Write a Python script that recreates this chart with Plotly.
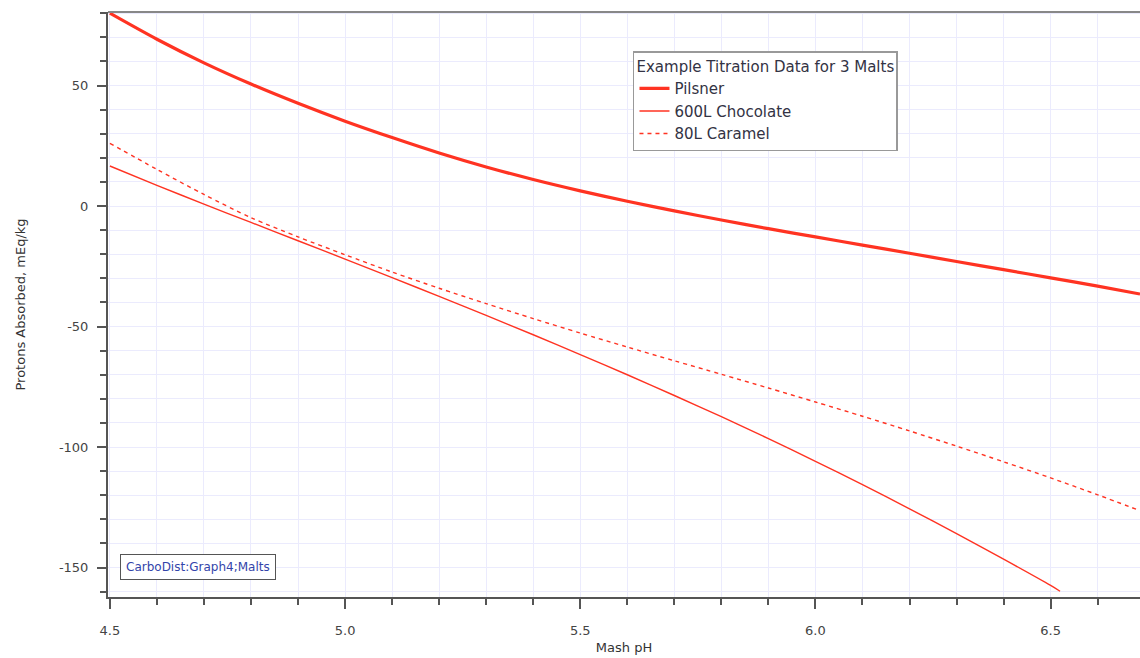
import plotly.graph_objects as go

ph_pils = [4.5, 4.6, 4.7, 4.8, 4.9, 5.0, 5.1, 5.2, 5.3, 5.4, 5.5, 5.6, 5.7, 5.8, 5.9, 6.0, 6.1, 6.2, 6.3, 6.4, 6.5, 6.6, 6.69]
pilsner = [80, 69.2, 59.4, 50.6, 42.6, 35.2, 28.4, 22.0, 16.2, 11.0, 6.3, 2.0, -2.0, -5.8, -9.4, -12.8, -16.2, -19.6, -23.0, -26.4, -29.8, -33.2, -36.5]

ph_choc = [4.5, 4.6, 4.7, 4.8, 4.9, 5.0, 5.1, 5.2, 5.3, 5.4, 5.5, 5.6, 5.7, 5.8, 5.9, 6.0, 6.1, 6.2, 6.3, 6.4, 6.5, 6.52]
chocolate = [16.6, 8.6, 0.8, -6.8, -14.4, -22, -29.7, -37.5, -45.4, -53.4, -61.6, -70.0, -78.6, -87.4, -96.5, -105.9, -115.6, -125.6, -135.9, -146.5, -157.4, -159.8]

ph_cara = [4.5, 4.6, 4.7, 4.8, 4.9, 5.0, 5.1, 5.2, 5.3, 5.4, 5.5, 5.6, 5.7, 5.8, 5.9, 6.0, 6.1, 6.2, 6.3, 6.4, 6.5, 6.6, 6.69]
caramel = [26, 15.2, 4.8, -4.8, -12.8, -20.2, -27.4, -34.1, -40.5, -46.7, -52.7, -58.5, -64.2, -69.8, -75.5, -81.3, -87.2, -93.3, -99.6, -106.1, -112.8, -119.8, -126.4]

series_names = ["Pilsner", "600L Chocolate", "80L Caramel"]
legend_title = "Example Titration Data for 3 Malts"
x_title = "Mash pH"
y_title = "Protons Absorbed, mEq/kg"
note_text = "CarboDist:Graph4;Malts"

red = "#ff3322"
font_family = "DejaVu Sans"

fig = go.Figure()
fig.add_trace(go.Scatter(x=ph_pils, y=pilsner, mode="lines", name=series_names[0],
                         line=dict(color=red, width=3.2, shape="spline", smoothing=0.8)))
fig.add_trace(go.Scatter(x=ph_choc, y=chocolate, mode="lines", name=series_names[1],
                         line=dict(color=red, width=1.4, shape="spline", smoothing=0.8)))
fig.add_trace(go.Scatter(x=ph_cara, y=caramel, mode="lines", name=series_names[2],
                         line=dict(color=red, width=1.4, shape="spline", smoothing=0.8, dash="4px,4px")))

grid_col = "#ebebfd"
axis_col = "#555555"

fig.update_layout(
    width=1140, height=658,
    margin=dict(l=108, r=0, t=12, b=61),
    paper_bgcolor="white", plot_bgcolor="white",
    font=dict(family=font_family, size=13, color="#333333"),
    showlegend=True,
    legend=dict(
        title=dict(text=legend_title, font=dict(size=15, color="#333344")),
        x=0.5087, y=0.933, xanchor="left", yanchor="top",
        bgcolor="white", bordercolor="#999999", borderwidth=1.5,
        font=dict(size=15, color="#333344"),
        tracegroupgap=0, itemwidth=30,
    ),
    xaxis=dict(
        range=[4.496, 6.69], tickvals=[4.5, 5.0, 5.5, 6.0, 6.5],
        ticktext=["4.5", "5.0", "5.5", "6.0", "6.5"],
        ticks="outside", ticklen=10, tickwidth=1.5, tickcolor=axis_col,
        showline=True, linecolor=axis_col, linewidth=2, mirror=False,
        showgrid=True, gridcolor=grid_col, gridwidth=1, zeroline=False,
        minor=dict(dtick=0.1, tick0=4.5, ticks="outside", ticklen=6, tickcolor=axis_col,
                   showgrid=True, gridcolor=grid_col),
        tickfont=dict(size=13, color="#444444"),
        ticklabelstandoff=10,
        title=dict(text=x_title, font=dict(size=13, color="#333333"), standoff=6),
    ),
    yaxis=dict(
        range=[-162.2, 80.5], tickvals=[50, 0, -50, -100, -150],
        ticktext=["50", "0", "-50", "-100", "-150"],
        ticks="outside", ticklen=9, tickwidth=1.5, tickcolor=axis_col,
        showline=True, linecolor=axis_col, linewidth=2,
        showgrid=True, gridcolor=grid_col, gridwidth=1, zeroline=False,
        minor=dict(dtick=10, tick0=0, ticks="outside", ticklen=6, tickcolor=axis_col,
                   showgrid=True, gridcolor=grid_col),
        tickfont=dict(size=13, color="#444444"),
        ticklabelstandoff=6,
        title=dict(text=y_title, font=dict(size=13, color="#333333"), standoff=30),
    ),
)

# top frame line
fig.add_shape(type="line", xref="paper", yref="paper", x0=0, x1=1, y0=1, y1=1,
              line=dict(color="#888888", width=2))

fig.add_annotation(
    text=note_text, xref="paper", yref="paper", x=0.0116, y=0.052,
    xanchor="left", yanchor="middle", showarrow=False,
    font=dict(size=12, color="#3344aa", family=font_family),
    bordercolor="#555555", borderwidth=1, borderpad=5, bgcolor="white",
)

fig.write_html("out.html")
